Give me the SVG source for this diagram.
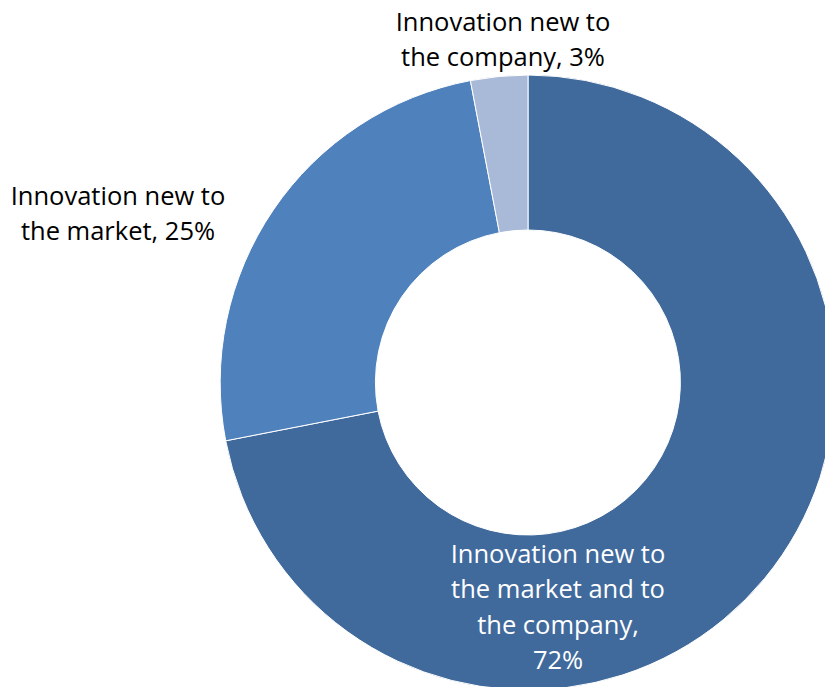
<svg xmlns="http://www.w3.org/2000/svg" width="825" height="687" viewBox="0 0 825 687">
<style>
.lbl{font-family:"Open Sans","Liberation Sans",sans-serif;font-size:25.5px;text-anchor:middle}
.dark{fill:#000}
.white{fill:#fff}
.seg{stroke:#fff;stroke-width:1}
</style>
<rect width="825" height="687" fill="#fff"/>
<g id="slices">
<g id="slice-market-and-company">
<path class="seg" fill="#416A9C" d="M528,75 A307.5,307.5 0 1 1 225.7,440.8 L378.1,411.1 A152.5,152.5 0 1 0 528,230 Z"/>
</g>
<g id="slice-market">
<path class="seg" fill="#4F81BD" d="M225.7,440.8 A307.5,307.5 0 0 1 470.4,80.6 L499.4,232.7 A152.5,152.5 0 0 0 378.1,411.1 Z"/>
</g>
<g id="slice-company">
<path class="seg" fill="#A9B9D8" d="M470.4,80.6 A307.5,307.5 0 0 1 528,75 L528,230 A152.5,152.5 0 0 0 499.4,232.7 Z"/>
</g>
</g>
<g id="labels">
<text class="lbl dark" x="503" y="31">Innovation new to</text>
<text class="lbl dark" x="503" y="66">the company, 3%</text>
<text class="lbl dark" x="118" y="205">Innovation new to</text>
<text class="lbl dark" x="118" y="240">the market, 25%</text>
<text class="lbl white" x="558" y="563">Innovation new to</text>
<text class="lbl white" x="558" y="598">the market and to</text>
<text class="lbl white" x="558" y="634">the company,</text>
<text class="lbl white" x="558" y="669">72%</text>
</g>
</svg>
